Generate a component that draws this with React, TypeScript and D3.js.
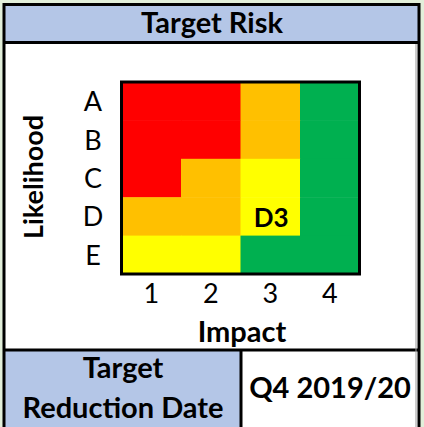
import React from "react";
import * as d3 from "d3";

// rows top -> bottom, columns left -> right
const likelihood = ["A", "B", "C", "D", "E"];
const impact = ["1", "2", "3", "4"];
const ratingRows = [
  ["red", "red", "amber", "green"],
  ["red", "red", "amber", "green"],
  ["red", "amber", "yellow", "green"],
  ["amber", "amber", "yellow", "green"],
  ["yellow", "yellow", "green", "green"],
];
const targetCell = { likelihood: "D", impact: "3" };
const reductionLabel = ["Target", "Reduction Date"];
const reductionDate = "Q4 2019/20";

const ratingColour: Record<string, string> = {
  red: "#FF0000",
  amber: "#FFC000",
  yellow: "#FFFF00",
  green: "#00B050",
};

const W = 424, H = 427;
const FONT = "Lato, 'Open Sans', sans-serif";
const BLUE = "#B4C6E7";

const App = () => {
  const x = d3.scaleBand().domain(impact).range([121.5, 359.5]);
  const y = d3.scaleBand().domain(likelihood).range([82, 274]);

  const cells = ratingRows.flatMap((row, r) =>
    row.map((rating, c) => ({ l: likelihood[r], i: impact[c], rating }))
  );

  return (
    <div style={{ position: "absolute", left: 0, top: 0 }}>
      <svg width={W} height={H} style={{ display: "block" }} fontFamily={FONT}>
        <rect x={0} y={0} width={W} height={H} fill="#E2EFDA" />
        {/* panel */}
        <rect x={4} y={4} width={415} height={440} fill="#fff" />
        <rect x={4} y={4} width={415} height={38} fill={BLUE} />
        <rect x={4} y={350} width={237} height={90} fill={BLUE} />

        <text x={212} y={33} textAnchor="middle" fontSize={29} fontWeight={700}>Target Risk</text>

        {/* heatmap */}
        {cells.map((d) => (
          <rect
            key={d.l + d.i}
            x={x(d.i)}
            y={y(d.l)}
            width={x.bandwidth() + 0.5}
            height={y.bandwidth() + 0.5}
            fill={ratingColour[d.rating]}
          />
        ))}
        <rect x={121.5} y={82} width={238} height={192} fill="none" stroke="#000" strokeWidth={3} />
        <text
          x={x(targetCell.impact)! + x.bandwidth() / 2 + 1}
          y={y(targetCell.likelihood)! + y.bandwidth() / 2 + 10.5}
          textAnchor="middle"
          fontSize={26}
          fontWeight={700}
        >
          {targetCell.likelihood + targetCell.impact}
        </text>

        {likelihood.map((l) => (
          <text key={l} x={93} y={y(l)! + y.bandwidth() / 2 + 10} textAnchor="middle" fontSize={27}>{l}</text>
        ))}
        {impact.map((i) => (
          <text key={i} x={x(i)! + x.bandwidth() / 2} y={303} textAnchor="middle" fontSize={27}>{i}</text>
        ))}
        <text x={242} y={342} textAnchor="middle" fontSize={29} fontWeight={700}>Impact</text>
        <text
          transform="translate(43,177) rotate(-90)"
          textAnchor="middle"
          fontSize={27}
          fontWeight={700}
        >
          Likelihood
        </text>

        {/* bottom cells */}
        <text x={123} y={378} textAnchor="middle" fontSize={29} fontWeight={700}>{reductionLabel[0]}</text>
        <text x={123} y={418} textAnchor="middle" fontSize={29} fontWeight={700}>{reductionLabel[1]}</text>
        <text x={330} y={398} textAnchor="middle" fontSize={29} fontWeight={700}>{reductionDate}</text>

        {/* grid lines */}
        <line x1={4} x2={419} y1={42.5} y2={42.5} stroke="#000" strokeWidth={3} />
        <line x1={4} x2={419} y1={350} y2={350} stroke="#000" strokeWidth={3} />
        <line x1={241} x2={241} y1={350} y2={H} stroke="#000" strokeWidth={3} />
        <line x1={416} x2={416} y1={44} y2={H} stroke="#999" strokeWidth={1} />
        <path d={`M4,${H} V4.5 H419 V${H}`} fill="none" stroke="#000" strokeWidth={3} />
      </svg>
    </div>
  );
};

export default App;
